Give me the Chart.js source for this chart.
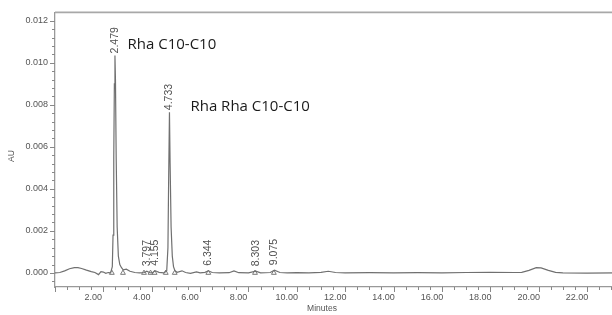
<!DOCTYPE html>
<html>
<head>
<meta charset="utf-8">
<script src="https://cdn.jsdelivr.net/npm/chart.js@4"></script>
<style>
  html, body { margin: 0; padding: 0; background: #fff; overflow: hidden; }
  #wrap { width: 620px; height: 315px; }
</style>
</head>
<body>
<div id="wrap"><canvas id="chart" width="620" height="315"></canvas></div>
<script>
// Chromatogram trace (minutes, AU)
const times = [0.00, 0.20, 0.40, 0.60, 0.80, 0.95, 1.10, 1.30, 1.50, 1.65, 1.80, 1.90, 2.00, 2.10, 2.20, 2.30,
  2.37, 2.40, 2.43, 2.455, 2.479, 2.50, 2.53, 2.57, 2.62, 2.68, 2.75, 2.82, 2.95, 3.10, 3.30, 3.50,
  3.70, 3.797, 3.90, 4.00, 4.155, 4.30, 4.50, 4.62, 4.67, 4.70, 4.733, 4.76, 4.80, 4.85, 4.90, 4.96,
  5.05, 5.25, 5.40, 5.60, 5.85, 6.00, 6.20, 6.344, 6.50, 6.80, 7.20, 7.40, 7.60, 8.00, 8.303, 8.50,
  8.90, 9.075, 9.30, 9.60, 10.0, 10.5, 11.0, 11.3, 11.6, 12.0, 13.0, 14.0, 15.0, 16.0, 17.0, 18.0,
  19.0, 19.3, 19.6, 19.9, 20.1, 20.4, 20.7, 21.0, 22.0, 23.2];
const au = [0.00000, 0.00002, 0.00010, 0.00020, 0.00025, 0.00025, 0.00021, 0.00013, 0.00006, 0.00002, -0.00008, 0.00006, 0.00004, -0.00002, 0.00002, 0.00000,
  0.00030, 0.00180, 0.00550, 0.00900, 0.01035, 0.00920, 0.00550, 0.00220, 0.00080, 0.00040, 0.00025, 0.00015, 0.00018, 0.00008, 0.00002, 0.00000,
  0.00002, 0.00008, 0.00002, 0.00000, 0.00010, 0.00003, 0.00000, 0.00010, 0.00120, 0.00450, 0.00765, 0.00520, 0.00220, 0.00080, 0.00030, 0.00010,
  0.00003, 0.00010, 0.00002, -0.00002, 0.00005, 0.00000, 0.00003, 0.00010, 0.00002, 0.00000, 0.00001, 0.00010, 0.00001, 0.00000, 0.00008, 0.00000,
  0.00002, 0.00013, 0.00002, 0.00000, 0.00001, 0.00000, 0.00003, 0.00008, 0.00002, 0.00000, 0.00001, 0.00000, 0.00001, 0.00000, 0.00002, 0.00003,
  0.00002, 0.00003, 0.00012, 0.00025, 0.00024, 0.00012, 0.00003, 0.00000, -0.00001, 0.00000];

// Integration markers (triangles on the baseline)
const markerTimes = [2.35, 2.81, 3.68, 3.95, 4.12, 4.58, 4.95, 6.34, 8.27, 9.05];

// Retention time labels
const peakTimes = [2.479, 3.797, 4.155, 4.733, 6.344, 8.303, 9.075];
const peakHeights = [0.01035, 0.00008, 0.00010, 0.00765, 0.00010, 0.00008, 0.00013];
const peakLabels = ['2.479', '3.797', '4.155', '4.733', '6.344', '8.303', '9.075'];

// Compound names
const noteTexts = ['Rha C10-C10', 'Rha Rha C10-C10'];
const noteTimes = [3.0, 5.6];
const noteValues = [0.01066, 0.00772];

const xMin = 0, xMax = 23.156;
const yMin = -0.00067, yMax = 0.012398;

const isMajor = (v, step) => Math.abs(v / step - Math.round(v / step)) < 1e-6;

const decor = {
  id: 'decor',
  afterDraw(chart) {
    const ctx = chart.ctx;
    const a = chart.chartArea;
    const xs = chart.scales.x, ys = chart.scales.y;
    ctx.save();
    // top frame line
    ctx.strokeStyle = '#a8a8a8';
    ctx.lineWidth = 1.6;
    ctx.beginPath();
    ctx.moveTo(a.left, a.top);
    ctx.lineTo(a.right, a.top);
    ctx.stroke();
    // tick marks
    ctx.strokeStyle = '#888';
    ctx.lineWidth = 1;
    ys.ticks.forEach(t => {
      const py = Math.round(ys.getPixelForValue(t.value)) + 0.5;
      const len = isMajor(t.value, 0.002) ? 5 : 3;
      ctx.beginPath();
      ctx.moveTo(a.left - len, py);
      ctx.lineTo(a.left, py);
      ctx.stroke();
    });
    xs.ticks.forEach(t => {
      const px = Math.round(xs.getPixelForValue(t.value)) + 0.5;
      const len = isMajor(t.value, 2) ? 5 : 3;
      ctx.beginPath();
      ctx.moveTo(px, a.bottom);
      ctx.lineTo(px, a.bottom + len);
      ctx.stroke();
    });
    // axis titles
    ctx.fillStyle = '#555';
    ctx.font = '8.5px "Liberation Sans", Arial, sans-serif';
    ctx.textAlign = 'center';
    ctx.textBaseline = 'middle';
    ctx.fillText('Minutes', 322, 309);
    ctx.save();
    ctx.translate(12, 156);
    ctx.rotate(-Math.PI / 2);
    ctx.fillText('AU', 0, 0);
    ctx.restore();
    // retention time labels
    ctx.font = '10.5px "Liberation Sans", Arial, sans-serif';
    ctx.fillStyle = '#505050';
    ctx.textAlign = 'left';
    ctx.textBaseline = 'middle';
    peakTimes.forEach((t, i) => {
      const px = xs.getPixelForValue(t);
      const py = ys.getPixelForValue(peakHeights[i]) - (peakHeights[i] > 0.001 ? 2 : 5);
      ctx.save();
      ctx.translate(px, py);
      ctx.rotate(-Math.PI / 2);
      ctx.fillText(peakLabels[i], 0, 0);
      ctx.restore();
    });
    // compound names
    ctx.font = '15px "Open Sans", sans-serif';
    ctx.fillStyle = '#1a1a1a';
    ctx.textBaseline = 'alphabetic';
    noteTexts.forEach((txt, i) => {
      ctx.fillText(txt, xs.getPixelForValue(noteTimes[i]), ys.getPixelForValue(noteValues[i]));
    });
    ctx.restore();
  }
};

new Chart(document.getElementById('chart'), {
  type: 'line',
  data: {
    datasets: [
      {
        data: times.map((t, i) => ({ x: t, y: au[i] })),
        borderColor: '#707070',
        borderWidth: 1.2,
        pointRadius: 0,
        tension: 0,
        fill: false
      },
      {
        data: markerTimes.map(t => ({ x: t, y: 0 })),
        showLine: false,
        pointStyle: 'triangle',
        pointRadius: 2.8,
        borderColor: '#7a7a7a',
        borderWidth: 1,
        backgroundColor: 'rgba(0,0,0,0)'
      }
    ]
  },
  options: {
    responsive: false,
    animation: false,
    devicePixelRatio: 1,
    layout: { padding: { top: 8, left: 0, right: 0, bottom: 0 } },
    plugins: { legend: { display: false }, tooltip: { enabled: false } },
    scales: {
      x: {
        type: 'linear',
        min: xMin,
        max: xMax,
        afterFit: s => { s.height = 28; },
        grid: { display: true, drawOnChartArea: false, drawTicks: false },
        border: { display: true, color: '#999', width: 1.3 },
        ticks: {
          stepSize: 0.5,
          autoSkip: false,
          maxRotation: 0,
          includeBounds: false,
          padding: 5,
          labelOffset: -10,
          color: '#555',
          font: { family: '"Liberation Sans", Arial, sans-serif', size: 9 },
          callback: v => (isMajor(v, 2) && v > 0 ? v.toFixed(2) : '')
        }
      },
      y: {
        min: yMin,
        max: yMax,
        afterFit: s => { s.width = 55; },
        grid: { display: true, drawOnChartArea: false, drawTicks: false },
        border: { display: true, color: '#999', width: 1.3 },
        ticks: {
          stepSize: 0.0004,
          autoSkip: false,
          includeBounds: false,
          padding: 7,
          color: '#555',
          font: { family: '"Liberation Sans", Arial, sans-serif', size: 9 },
          callback: v => (isMajor(v, 0.002) ? (Math.abs(v) < 1e-9 ? 0 : v).toFixed(3) : '')
        }
      }
    }
  },
  plugins: [decor]
});
</script>
</body>
</html>
